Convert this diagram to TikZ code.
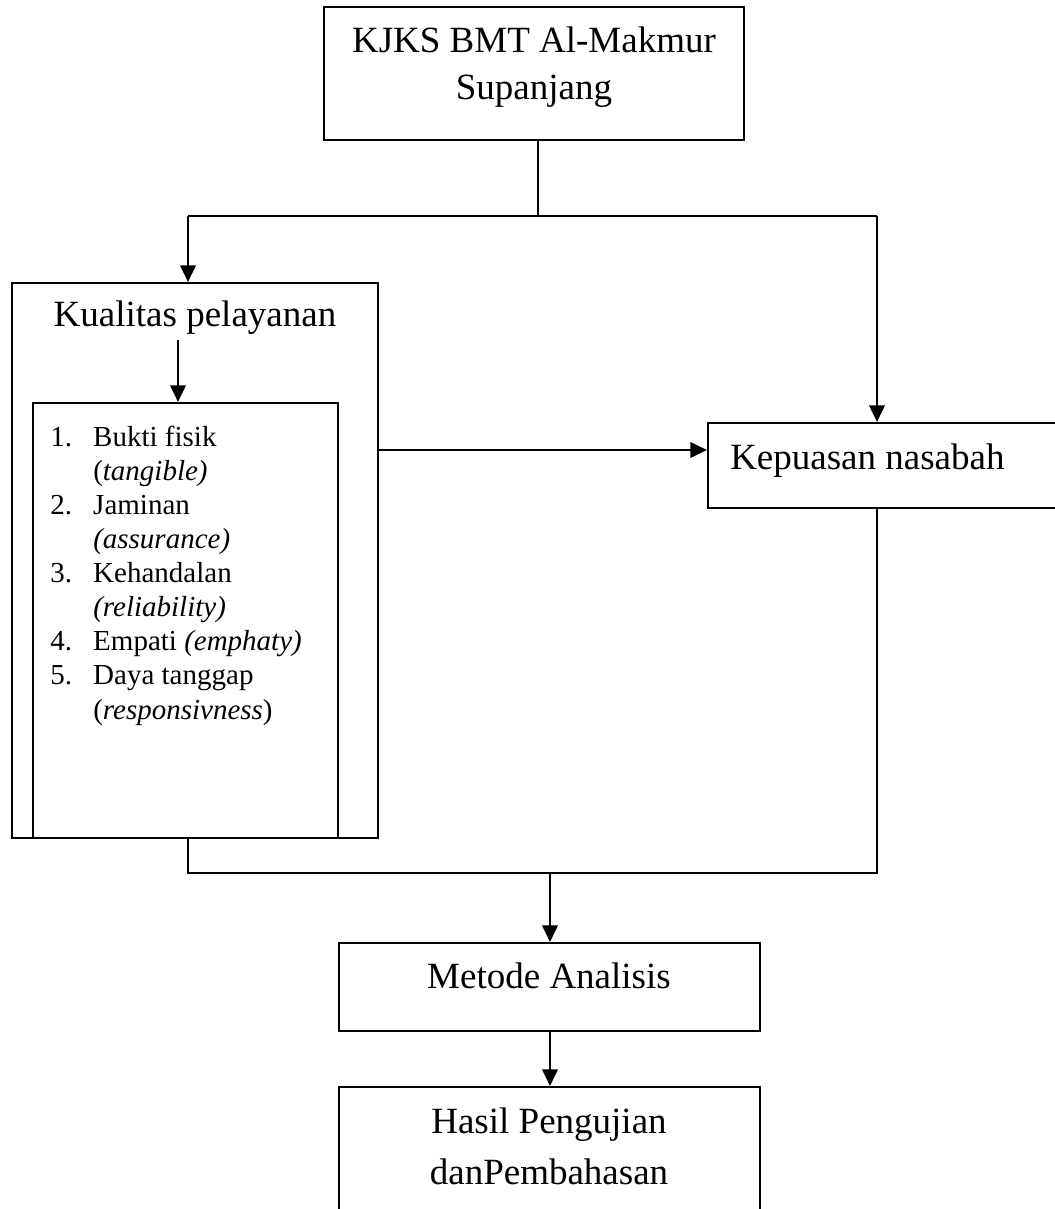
\documentclass[tikz,border=0pt]{standalone}
\usepackage{fontspec}
\setmainfont{Liberation Serif}
\usetikzlibrary{arrows.meta}

\tikzset{
  box/.style={draw, line width=1.5pt, inner sep=0pt},
  lbl/.style={inner sep=0pt, font=\fontsize{27.75}{34}\selectfont},
  link/.style={line width=1.4pt},
  arr/.style={line width=2pt, -{Triangle[length=12.5pt,width=11.5pt]}}
}

\begin{document}
\begin{tikzpicture}[x=0.75pt,y=0.75pt,yscale=-1,xscale=1]
\path[use as bounding box, clip] (0,0) rectangle (1055,1209);

% Boxes
\node[box, minimum width=315pt, minimum height=99.75pt] (bmt) at (534,73.5) {};
\node[box, minimum width=274.5pt, minimum height=416.25pt] (kualitas) at (195,560.5) {};
\node[box, minimum width=228.75pt, minimum height=326.25pt] (dimensi) at (185.5,620.5) {};
\node[box, minimum width=275.25pt, minimum height=63.75pt] (kepuasan) at (891.5,465.5) {};
\node[box, minimum width=315.75pt, minimum height=66pt] (metode) at (549.5,987) {};
\node[box, minimum width=315.75pt, minimum height=107.25pt] (hasil) at (549.5,1158.5) {};

% Texts
\node[lbl, anchor=base] (bmtA) at (534,53) {KJKS BMT Al-Makmur};
\node[lbl, anchor=base] (bmtB) at (534,100) {Supanjang};
\node[lbl, anchor=base] (kualitasT) at (195,326) {Kualitas pelayanan};
\node[lbl, anchor=base west] (kepuasanT) at (730,469) {Kepuasan nasabah};
\node[lbl, anchor=base] (metodeT) at (549,988) {Metode Analisis};
\node[lbl, anchor=base] (hasilA) at (549,1133) {Hasil Pengujian};
\node[lbl, anchor=base] (hasilB) at (549,1184) {danPembahasan};

% Dimensi list
\node[inner sep=0pt, anchor=base west] (daftar) at (50,446) {\fontsize{21.75}{25.6}\selectfont
  \begin{tabular}[t]{@{}p{32.25pt}@{}l@{}}
  1. & Bukti fisik\\
     & (\textit{tangible)}\\
  2. & Jaminan\\
     & \textit{(assurance)}\\
  3. & Kehandalan\\
     & \textit{(reliability)}\\
  4. & Empati \textit{(emphaty)}\\
  5. & Daya tanggap\\
     & (\textit{responsivness})
  \end{tabular}};

% Connectors
\coordinate (atas) at (538,216);
\coordinate (kiri) at (188,216);
\coordinate (kanan) at (877,216);
\coordinate (tengah) at (178,340);
\coordinate (panah) at (378,450);
\coordinate (bawahK) at (188,873);
\coordinate (bawahN) at (877,873);
\coordinate (bawahT) at (550,873);

\draw[link] (bmt.south -| atas) -- (atas);
\draw[link] (kiri) -- (kanan);
\draw[arr] (kiri) -- (kiri |- kualitas.north);
\draw[arr] (kanan) -- (kanan |- kepuasan.north);
\draw[arr] (tengah) -- (tengah |- dimensi.north);
\draw[arr] (panah) -- (panah -| kepuasan.west);
\draw[link] (bawahK |- kualitas.south) -- (bawahK) -- (bawahN) -- (bawahN |- kepuasan.south);
\draw[arr] (bawahT) -- (bawahT |- metode.north);
\draw[arr] (metode.south -| bawahT) -- (bawahT |- hasil.north);

\end{tikzpicture}
\end{document}
